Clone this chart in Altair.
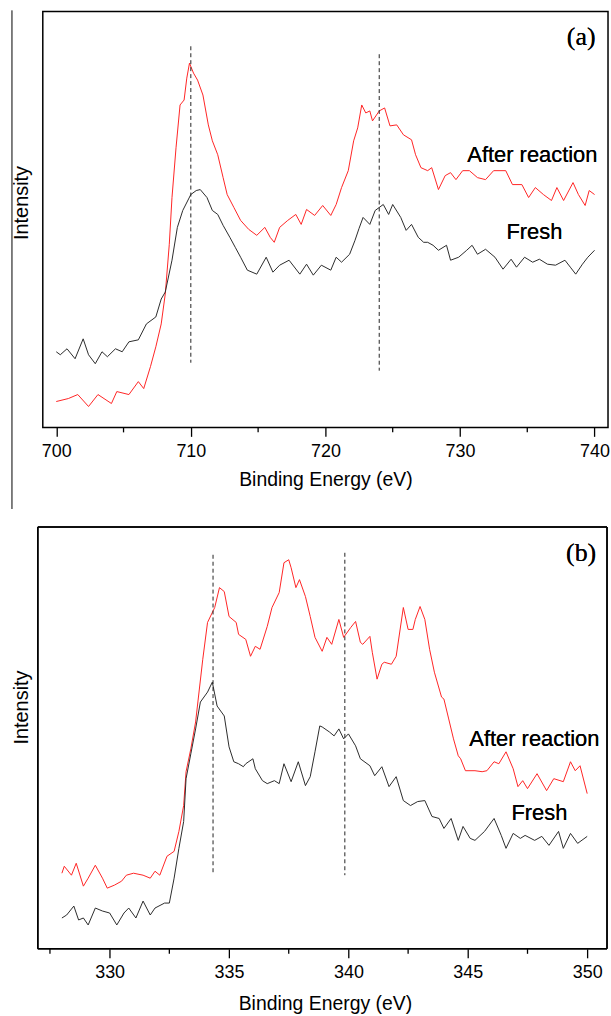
import altair as alt
import pandas as pd

# ---------------- Panel (a): Fe 2p region ----------------
a_red_x = [700.0,700.9,701.6,702.4,703.1,704.1,704.5,705.4,706.1,706.5,707.0,707.4,707.8,708.1,708.4,708.6,708.9,
           709.2,709.5,709.7,709.9,710.2,710.5,710.9,711.3,711.6,712.0,712.4,712.7,713.2,713.7,714.3,714.9,715.5,
           715.9,716.2,716.6,717.2,717.8,718.2,718.6,719.2,719.8,720.4,720.8,721.2,721.7,722.1,722.4,722.7,723.0,
           723.3,723.5,724.0,724.4,724.8,725.3,725.8,726.4,726.7,727.1,727.6,727.9,728.4,728.9,729.3,729.7,730.2,
           730.7,731.3,731.9,732.5,733.4,733.9,734.6,735.1,735.6,736.2,736.8,737.2,737.7,738.4,738.8,739.3,739.6,740.0]
a_red_y = [26,29,33,21,33,24,36,33,46,39,61,81,104,134,184,231,281,
           324,329,351,366,356,349,334,304,288,274,251,234,221,208,199,193,201,
           191,186,201,208,214,204,219,213,223,213,224,241,258,288,301,324,316,
           318,308,318,321,303,304,294,289,274,261,258,261,239,253,256,249,258,
           258,251,249,258,258,244,244,231,241,234,228,241,228,246,234,223,238,234]

a_blk_x = [700.0,700.3,700.8,701.4,702.0,702.4,702.9,703.4,703.8,704.4,704.9,705.4,706.1,706.7,707.4,707.8,708.1,
           708.6,709.0,709.4,710.0,710.4,710.7,711.2,711.6,712.0,712.4,712.9,713.3,713.7,714.2,714.9,715.6,716.1,
           716.6,717.3,718.1,718.6,719.1,719.7,720.4,720.8,721.2,721.8,722.2,722.5,722.8,723.3,723.7,724.3,724.7,
           725.0,725.6,726.0,726.4,726.9,727.3,727.6,728.0,728.4,729.0,729.3,729.9,730.5,730.9,731.3,731.9,732.6,
           733.2,733.8,734.2,734.8,735.4,735.9,736.5,737.1,737.8,738.2,738.6,739.1,739.5,740.0]
a_blk_y = [76,73,79,69,89,73,64,76,71,79,76,86,88,104,111,129,136,
           168,201,218,234,238,239,231,218,214,203,191,181,171,158,154,171,156,
           163,168,154,164,153,163,158,171,166,174,188,200,211,204,218,224,214,
           224,211,198,204,191,186,186,183,178,183,168,171,178,183,174,179,171,
           159,169,161,171,166,169,164,163,168,161,154,164,171,178]

a_peaks = [710.0, 724.0]
a_peak_top = [383, 375]
a_peak_bottom = [65, 57]
a_major_ticks = [700, 710, 720, 730, 740]
a_minor_ticks = [705, 715, 725, 735]

# ---------------- Panel (b): Ag 3d region ----------------
b_red_x = [328.0,328.1,328.4,328.6,328.9,329.1,329.4,329.7,329.9,330.2,330.5,330.7,331.0,331.4,331.7,331.9,332.1,
           332.4,332.7,332.9,333.1,333.2,333.4,333.6,333.9,334.1,334.4,334.6,334.8,335.0,335.3,335.4,335.7,335.9,
           336.1,336.3,336.6,336.8,337.1,337.3,337.5,337.6,337.8,337.95,338.2,338.4,338.6,338.9,339.1,339.3,339.6,
           339.8,340.1,340.3,340.5,340.6,340.9,341.0,341.2,341.4,341.5,341.8,342.0,342.3,342.5,342.7,342.8,343.0,
           343.2,343.4,343.6,343.9,344.0,344.2,344.4,344.6,344.7,344.9,345.3,345.6,345.8,346.1,346.3,346.6,346.9,
           347.1,347.3,347.5,347.9,348.3,348.6,349.0,349.3,349.5,349.7,350.0]
b_red_y = [76,83,74,86,63,71,84,71,61,64,68,74,76,74,71,78,74,
           93,98,118,144,178,201,228,291,328,343,363,359,334,328,316,311,294,
           304,301,324,343,358,388,391,383,363,371,354,334,313,299,313,306,331,
           313,323,329,308,306,314,298,271,286,288,286,294,343,321,321,331,344,
           331,301,278,253,251,231,211,194,191,179,179,178,179,188,186,198,181,
           163,169,161,176,159,171,168,188,179,184,156]

b_blk_x = [328.0,328.2,328.5,328.7,328.9,329.1,329.4,329.7,330.0,330.3,330.6,330.8,331.1,331.4,331.7,331.9,332.3,
           332.5,332.7,332.9,333.1,333.2,333.4,333.6,333.8,334.1,334.3,334.5,334.8,335.0,335.2,335.4,335.6,335.7,
           336.0,336.1,336.4,336.6,336.9,337.1,337.3,337.6,337.9,338.2,338.4,338.6,338.8,338.9,339.2,339.4,339.6,
           339.8,340.0,340.3,340.5,340.9,341.1,341.4,341.7,342.0,342.3,342.6,342.9,343.2,343.5,343.8,344.0,344.3,
           344.6,344.8,345.1,345.3,345.7,346.1,346.4,346.6,346.9,347.2,347.4,347.8,348.1,348.4,348.8,349.0,349.3,
           349.6,350.0]
b_blk_y = [31,34,43,29,31,24,41,38,36,24,36,41,31,48,34,41,46,
           46,71,101,128,171,196,221,248,258,268,244,234,203,188,186,183,186,
           191,181,169,166,169,166,186,168,188,164,173,198,224,223,218,214,221,
           211,216,204,191,184,174,183,163,173,149,144,148,149,133,131,121,131,
           109,123,111,109,118,131,114,101,116,111,114,109,113,104,118,101,116,
           106,113]

b_peaks = [334.33, 339.85]
b_peak_top = [396, 398]
b_peak_bottom = [74, 74]
b_major_ticks = [330, 335, 340, 345, 350]
b_minor_ticks = [327.5, 332.5, 337.5, 342.5, 347.5]

series_names = ["After reaction", "Fresh"]
series_colors = ["#ff2424", "#2b2b2b"]


def long_df(rx, ry, bx, by):
    return pd.concat([
        pd.DataFrame({"energy": rx, "intensity": ry, "series": series_names[0], "order": range(len(rx))}),
        pd.DataFrame({"energy": bx, "intensity": by, "series": series_names[1], "order": range(len(bx))}),
    ])


def txt(src, xy, s, font="Liberation Sans", size=22):
    return alt.Chart(src).mark_text(font=font, fontSize=size, color="black",
                                    align="center", baseline="middle").encode(
        x=alt.value(xy[0]), y=alt.value(xy[1]), text=alt.value(s))


def panel(df, peaks_df, minor, xdom, ydom, w, h, major, tag, tag_xy, ar_xy, fr_xy,
          title_x, title_y, title_pad, extra=()):
    xs = alt.Scale(domain=xdom, nice=False, zero=False)
    ys = alt.Scale(domain=ydom, nice=False, zero=False)
    xaxis = alt.Axis(title="Binding Energy (eV)", values=major, format="d",
                     titlePadding=title_pad)
    yaxis = alt.Axis(title="Intensity", labels=False, ticks=False, domain=False,
                     titleX=title_x, titleY=title_y, titleBaseline="middle", titleFontSize=20)
    lines = alt.Chart(df).mark_line(strokeWidth=1, clip=True).encode(
        x=alt.X("energy:Q", scale=xs, axis=xaxis),
        y=alt.Y("intensity:Q", scale=ys, axis=yaxis),
        color=alt.Color("series:N", scale=alt.Scale(domain=series_names, range=series_colors), legend=None),
        order="order:Q",
    )
    dashes = alt.Chart(peaks_df).mark_rule(color="#222222", strokeWidth=1, strokeDash=[4, 3]).encode(
        x="energy:Q", y="top:Q", y2="bottom:Q")
    minor_ticks = alt.Chart(pd.DataFrame({"energy": minor})).mark_rule(
        color="black", strokeWidth=1.3).encode(
        x="energy:Q", y=alt.value(h), y2=alt.value(h + 5))
    layers = [lines, dashes, minor_ticks,
              txt(peaks_df, tag_xy, tag, font="Liberation Serif", size=26),
              txt(peaks_df, ar_xy, "After reaction"),
              txt(peaks_df, fr_xy, "Fresh")]
    layers.extend(extra)
    return alt.layer(*layers).properties(width=w, height=h)


df_a = long_df(a_red_x, a_red_y, a_blk_x, a_blk_y)
pk_a = pd.DataFrame({"energy": a_peaks, "top": a_peak_top, "bottom": a_peak_bottom})
df_b = long_df(b_red_x, b_red_y, b_blk_x, b_blk_y)
pk_b = pd.DataFrame({"energy": b_peaks, "top": b_peak_top, "bottom": b_peak_bottom})

W_A, H_A = 568, 418
W_B, H_B = 567, 424

side_rule = alt.Chart(pk_a).mark_rule(color="#555555", strokeWidth=1).encode(
    x=alt.value(-31), y=alt.value(-1), y2=alt.value(500))

# bottom panel frame drawn by hand (it sits 5 px further left than panel (a))
fl = -5
frame_b = [
    alt.Chart(pk_b).mark_rule(color="black", strokeWidth=1.5).encode(
        x=alt.value(fl), y=alt.value(0), y2=alt.value(H_B)),
    alt.Chart(pk_b).mark_rule(color="black", strokeWidth=1.5).encode(
        x=alt.value(W_B), y=alt.value(0), y2=alt.value(H_B)),
    alt.Chart(pk_b).mark_rule(color="black", strokeWidth=1.5).encode(
        x=alt.value(fl), x2=alt.value(W_B), y=alt.value(0)),
    alt.Chart(pk_b).mark_rule(color="black", strokeWidth=1.5).encode(
        x=alt.value(fl), x2=alt.value(W_B), y=alt.value(H_B)),
]

top = panel(df_a, pk_a, a_minor_ticks, [699, 741], [0, 418], W_A, H_A, a_major_ticks, "(a)",
            (541, 26), (492, 144), (494, 222), -21, 192, 10, extra=[side_rule])
bottom = panel(df_b, pk_b, b_minor_ticks, [327.2, 350.83], [0, 424], W_B, H_B, b_major_ticks, "(b)",
               (541, 26), (494, 213), (499, 288), -21, 181, 13, extra=frame_b
               ).properties(view=alt.ViewBackground(stroke="transparent"))

chart = alt.vconcat(top, bottom, spacing=14).properties(
    padding={"left": 10, "top": 6, "right": 0, "bottom": 0},
    background="white",
).configure_view(
    stroke="black", strokeWidth=1.5
).configure_axis(
    grid=False, labelFont="Liberation Sans", titleFont="Liberation Sans",
    labelFontSize=18, titleFontSize=19.5, titleFontWeight="normal",
    labelColor="black", titleColor="black", tickColor="black", tickSize=9, tickWidth=1.3,
    labelPadding=6, domain=False,
)

chart.save("out.html", embed_options={"renderer": "svg", "actions": False})
